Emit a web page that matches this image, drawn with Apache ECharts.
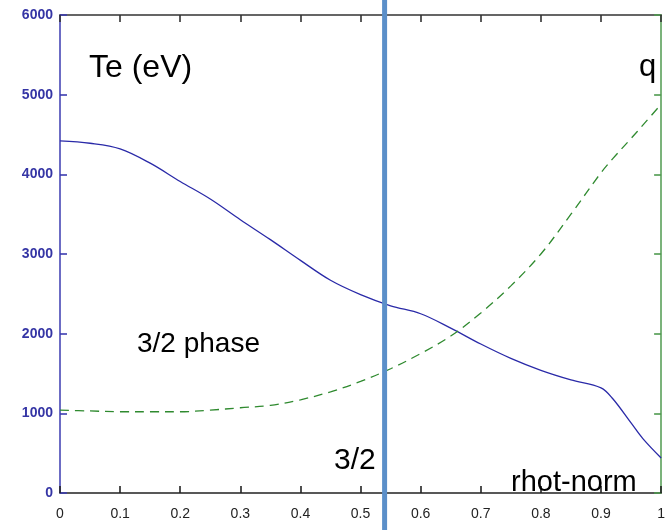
<!DOCTYPE html>
<html lang="en">
<head>
    <meta charset="UTF-8">
    <title>Te and q profiles</title>
    <script src="https://cdn.jsdelivr.net/npm/echarts@6/dist/echarts.min.js"></script>
    <style>
        body { margin: 0; background: #fff; }
    </style>
</head>
<body>
<div id="main" style="width: 668px;height:530px;"></div>
<script type="text/javascript">
    // rho (rhot-norm) sample points
    var rho = [0, 0.05, 0.1, 0.15, 0.2, 0.25, 0.3, 0.35, 0.4, 0.45, 0.5, 0.55, 0.6, 0.65, 0.7, 0.75, 0.8, 0.85, 0.9, 0.92, 0.95, 0.97, 1.0];
    // electron temperature, eV
    var te = [4420, 4390, 4320, 4140, 3910, 3690, 3430, 3180, 2920, 2670, 2490, 2350, 2250, 2070, 1870, 1690, 1540, 1420, 1320, 1180, 880, 680, 440];
    // safety factor q (right axis)
    var q = [1.04, 1.03, 1.02, 1.02, 1.02, 1.04, 1.07, 1.10, 1.17, 1.27, 1.40, 1.56, 1.75, 1.97, 2.26, 2.60, 3.00, 3.50, 4.02, 4.20, 4.45, 4.62, 4.88];
    // location of the 3/2 surface
    var rho32 = 0.54;

    var teData = [], qData = [];
    for (var i = 0; i < rho.length; i++) {
        teData.push([rho[i], te[i]]);
        qData.push([rho[i], q[i]]);
    }

    function tick(color) {
        return { show: true, inside: true, length: 7, lineStyle: { color: color, width: 1.6 } };
    }

    var myChart = echarts.init(document.getElementById('main'));
    var option = {
        backgroundColor: '#ffffff',
        animation: false,
        grid: { left: 60, right: 4, top: 15, bottom: 37 },
        xAxis: [
            {
                type: 'value', min: 0, max: 1, interval: 0.1, position: 'bottom',
                axisLine: { show: true, onZero: false, lineStyle: { color: '#222', width: 1.5 } },
                axisTick: tick('#222'),
                axisLabel: {
                    color: '#222', fontSize: 14, fontFamily: 'Liberation Sans Narrow, Liberation Sans, Arial',
                    margin: 14,
                    formatter: function (v) { return String(Math.round(v * 10) / 10); }
                },
                splitLine: { show: false }
            },
            {
                type: 'value', min: 0, max: 1, interval: 0.1, position: 'top',
                axisLine: { show: true, onZero: false, lineStyle: { color: '#333', width: 1.5 } },
                axisTick: tick('#333'),
                axisLabel: { show: false },
                splitLine: { show: false }
            }
        ],
        yAxis: [
            {
                type: 'value', min: 0, max: 6000, interval: 1000, position: 'left',
                axisLine: { show: true, onZero: false, lineStyle: { color: '#3b3bb0', width: 1.5 } },
                axisTick: tick('#3b3bb0'),
                axisLabel: {
                    color: '#3535a5', fontSize: 14, fontWeight: 'bold', fontFamily: 'Liberation Sans Narrow, Liberation Sans, Arial', margin: 7,
                    formatter: function (v) { return String(v); }
                },
                splitLine: { show: false }
            },
            {
                type: 'value', min: 0, max: 6, interval: 1, position: 'right',
                axisLine: { show: true, onZero: false, lineStyle: { color: '#4f9a4f', width: 1.5 } },
                axisTick: tick('#4f9a4f'),
                axisLabel: { show: false },
                splitLine: { show: false }
            }
        ],
        series: [
            {
                name: 'Te', type: 'line', yAxisIndex: 0, data: teData,
                smooth: 0.35, showSymbol: false,
                lineStyle: { color: '#2a2aa8', width: 1.3 }
            },
            {
                name: 'q', type: 'line', yAxisIndex: 1, data: qData,
                smooth: 0.35, showSymbol: false,
                lineStyle: { color: '#2f8a2f', width: 1.3, type: [9, 6] }
            }
        ]
    };
    myChart.setOption(option);

    // 3/2 surface line through the whole picture, placed with the x scale
    var x32 = myChart.convertToPixel({ xAxisIndex: 0 }, rho32);
    function label(text, x, y, size, family) {
        return {
            type: 'text', left: x, top: y, z: 100,
            style: { text: text, fill: '#000', fontSize: size, fontFamily: family || 'Liberation Sans, Arial' }
        };
    }
    myChart.setOption({
        graphic: [
            { type: 'line', shape: { x1: x32, y1: 0, x2: x32, y2: 530 }, style: { stroke: '#5b8fc9', lineWidth: 5 }, z: 100 },
            label('Te (eV)', 89, 52, 32),
            label('q', 639, 52, 31),
            label('3/2 phase', 137, 330, 28),
            label('3/2', 334, 446, 30),
            label('rhot-norm', 511, 468, 29, 'Liberation Sans Narrow, Liberation Sans, Arial')
        ]
    });
</script>
</body>
</html>
